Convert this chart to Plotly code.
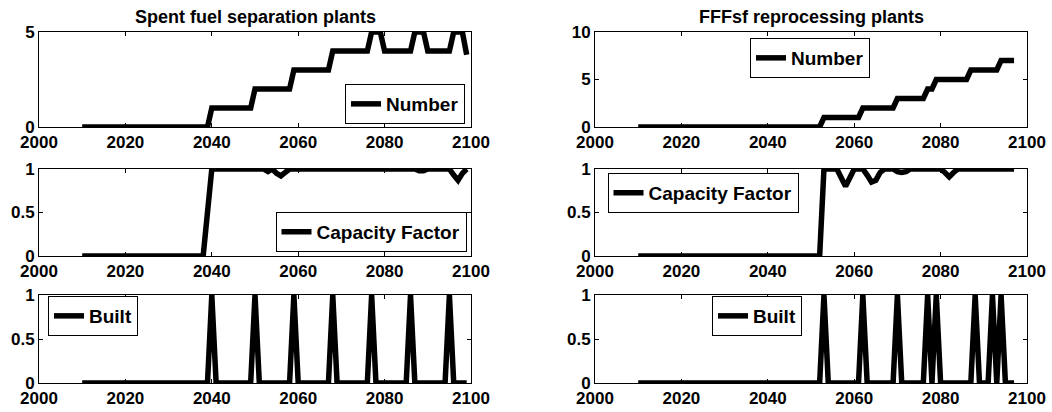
import plotly.graph_objects as go

# ---------------- data ----------------
sf_years = list(range(2010, 2100))
sf_number = [
    0, 0, 0, 0, 0, 0, 0, 0, 0, 0,
    0, 0, 0, 0, 0, 0, 0, 0, 0, 0,
    0, 0, 0, 0, 0, 0, 0, 0, 0, 0,
    1, 1, 1, 1, 1, 1, 1, 1, 1, 1,
    2, 2, 2, 2, 2, 2, 2, 2, 2, 3,
    3, 3, 3, 3, 3, 3, 3, 3, 4, 4,
    4, 4, 4, 4, 4, 4, 4, 5, 5, 5,
    4, 4, 4, 4, 4, 4, 4, 5, 5, 5,
    4, 4, 4, 4, 4, 4, 5, 5, 5, 3.8,
]
sf_cf = [
    0, 0, 0, 0, 0, 0, 0, 0, 0, 0,
    0, 0, 0, 0, 0, 0, 0, 0, 0, 0,
    0, 0, 0, 0, 0, 0, 0, 0, 0, 0.5,
    1, 1, 1, 1, 1, 1, 1, 1, 1, 1,
    1, 1, 1, 0.97, 1, 0.95, 0.92, 0.96, 1, 1,
    1, 1, 1, 1, 1, 1, 1, 1, 1, 1,
    1, 1, 1, 1, 1, 1, 1, 1, 1, 1,
    1, 1, 1, 1, 1, 1, 1, 1, 0.98, 0.98,
    1, 1, 1, 1, 1, 1, 0.93, 0.87, 0.95, 1,
]
sf_built = [
    0, 0, 0, 0, 0, 0, 0, 0, 0, 0,
    0, 0, 0, 0, 0, 0, 0, 0, 0, 0,
    0, 0, 0, 0, 0, 0, 0, 0, 0, 0,
    1, 0, 0, 0, 0, 0, 0, 0, 0, 0,
    1, 0, 0, 0, 0, 0, 0, 0, 0, 1,
    0, 0, 0, 0, 0, 0, 0, 0, 1, 0,
    0, 0, 0, 0, 0, 0, 0, 1, 0, 0,
    0, 0, 0, 0, 0, 0, 1, 0, 0, 0,
    0, 0, 0, 0, 0, 1, 0, 0, 0, 0,
]

ff_years = list(range(2010, 2098))
ff_number = [
    0, 0, 0, 0, 0, 0, 0, 0, 0, 0,
    0, 0, 0, 0, 0, 0, 0, 0, 0, 0,
    0, 0, 0, 0, 0, 0, 0, 0, 0, 0,
    0, 0, 0, 0, 0, 0, 0, 0, 0, 0,
    0, 0, 0, 1, 1, 1, 1, 1, 1, 1,
    1, 1, 2, 2, 2, 2, 2, 2, 2, 2,
    3, 3, 3, 3, 3, 3, 3, 4, 4, 5,
    5, 5, 5, 5, 5, 5, 5, 6, 6, 6,
    6, 6, 6, 6, 7, 7, 7, 7,
]
ff_cf = [
    0, 0, 0, 0, 0, 0, 0, 0, 0, 0,
    0, 0, 0, 0, 0, 0, 0, 0, 0, 0,
    0, 0, 0, 0, 0, 0, 0, 0, 0, 0,
    0, 0, 0, 0, 0, 0, 0, 0, 0, 0,
    0, 0, 0, 1, 1, 1, 1, 0.9, 0.8, 0.9,
    1, 1, 1, 0.93, 0.85, 0.87, 0.96, 1, 1, 1,
    0.97, 0.96, 0.97, 1, 1, 1, 1, 1, 1, 1,
    1, 0.96, 0.91, 0.96, 1, 1, 1, 1, 1, 1,
    1, 0.99, 0.99, 1, 1, 1, 1, 1,
]
ff_built = [
    0, 0, 0, 0, 0, 0, 0, 0, 0, 0,
    0, 0, 0, 0, 0, 0, 0, 0, 0, 0,
    0, 0, 0, 0, 0, 0, 0, 0, 0, 0,
    0, 0, 0, 0, 0, 0, 0, 0, 0, 0,
    0, 0, 0, 1, 0, 0, 0, 0, 0, 0,
    0, 0, 1, 0, 0, 0, 0, 0, 0, 0,
    1, 0, 0, 0, 0, 0, 0, 1, 0, 1,
    0, 0, 0, 0, 0, 0, 0, 0, 1, 0,
    0, 0, 1, 0, 1, 0, 0, 0,
]

titles = ["Spent fuel separation plants", "FFFsf reprocessing plants"]
xticks = [2000, 2020, 2040, 2060, 2080, 2100]

# ---------------- layout helpers ----------------
W, H = 1052, 412
FONT = "Liberation Sans"

def px(x):
    return x / W

def py(y):
    return 1 - y / H

cols = [(39, 471), (595, 1027)]
rows = [(32, 127), (169, 256), (295, 383)]

fig = go.Figure()

panels = [
    # (col, row, years, values, name, yrange, ytickvals, legend box centre px)
    (0, 0, sf_years, sf_number, "Number", [0, 5], [0, 5], (405, 104)),
    (0, 1, sf_years, sf_cf, "Capacity Factor", [0, 1], [0, 0.5, 1], (371, 232)),
    (0, 2, sf_years, sf_built, "Built", [0, 1], [0, 0.5, 1], (93, 316)),
    (1, 0, ff_years, ff_number, "Number", [0, 10], [0, 5, 10], (810, 58)),
    (1, 1, ff_years, ff_cf, "Capacity Factor", [0, 1], [0, 0.5, 1], (703, 193)),
    (1, 2, ff_years, ff_built, "Built", [0, 1], [0, 0.5, 1], (757, 316)),
]

axis_common = dict(
    showline=True, mirror="ticks", linecolor="black", linewidth=1,
    ticks="inside", ticklen=4, tickcolor="black", tickwidth=1,
    showgrid=False, zeroline=False, automargin=False,
    tickfont=dict(family=FONT, size=17, color="black", weight="bold"),
)

for i, (c, r, yrs, vals, name, yr, ytv, lb) in enumerate(panels):
    k = i + 1
    xa = "x" if k == 1 else f"x{k}"
    ya = "y" if k == 1 else f"y{k}"
    lg = "legend" if k == 1 else f"legend{k}"
    fig.add_trace(go.Scatter(
        x=yrs, y=vals, mode="lines", name=name,
        line=dict(color="black", width=5.5),
        xaxis=xa, yaxis=ya, legend=lg, showlegend=True,
    ))
    x0, x1 = cols[c]
    y0, y1 = rows[r]
    fig.layout[f"xaxis{'' if k == 1 else k}"] = dict(
        domain=[px(x0), px(x1)], range=[2000, 2100], tickvals=xticks,
        anchor=ya, **axis_common,
    )
    fig.layout[f"yaxis{'' if k == 1 else k}"] = dict(
        domain=[py(y1), py(y0)], range=yr, tickvals=ytv,
        ticktext=[("%g" % v) for v in ytv],
        anchor=xa, **axis_common,
    )
    lcx, lcy = lb
    fig.layout[lg] = dict(
        x=px(lcx), y=py(lcy), xanchor="center", yanchor="middle",
        xref="paper", yref="paper",
        bgcolor="white", bordercolor="black", borderwidth=1,
        font=dict(family=FONT, size=19, color="black", weight="bold"),
        itemwidth=30, tracegroupgap=0,
    )

for c, t in enumerate(titles):
    x0, x1 = cols[c]
    fig.add_annotation(
        x=px((x0 + x1) / 2), y=py(17), xref="paper", yref="paper",
        text=t, showarrow=False, xanchor="center", yanchor="middle",
        font=dict(family=FONT, size=18, color="black", weight="bold"),
    )

fig.update_layout(
    template="none",
    width=W, height=H,
    margin=dict(l=0, r=0, t=0, b=0),
    paper_bgcolor="white", plot_bgcolor="white",
    showlegend=True,
)

fig.write_html(
    "out.html",
    config={"displayModeBar": False},
    post_script="document.body.style.margin='0';document.body.style.overflow='hidden';",
)
